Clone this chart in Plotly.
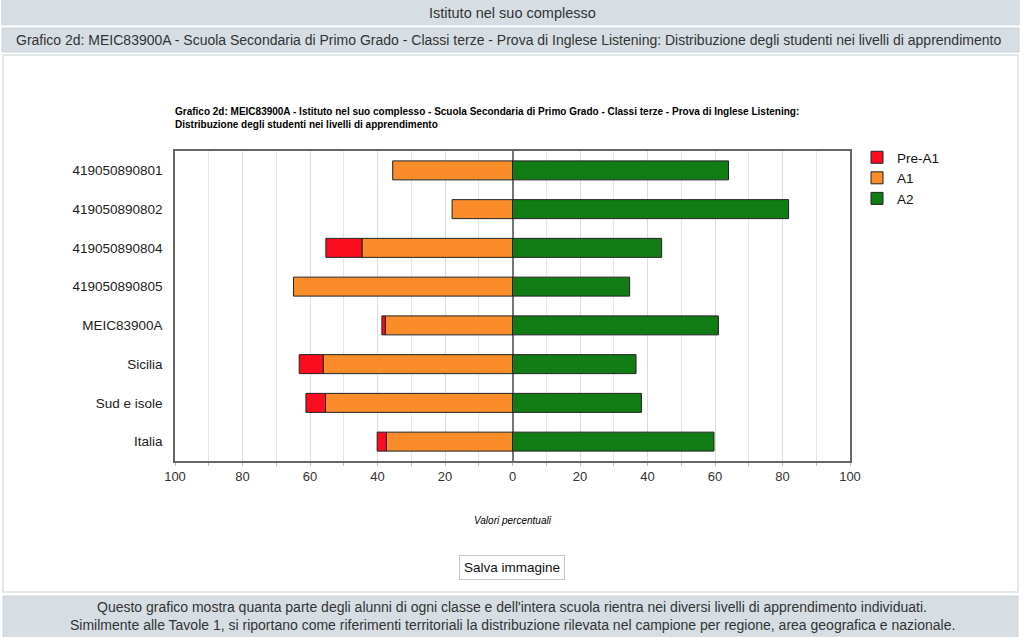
import plotly.graph_objects as go

# ---------------- data ----------------
categories = ["419050890801", "419050890802", "419050890804", "419050890805",
              "MEIC83900A", "Sicilia", "Sud e isole", "Italia"]
pre_a1 = [0.0, 0.0, 10.7, 0.0, 1.0, 7.1, 5.8, 2.7]
a1 = [35.5, 17.9, 44.6, 64.9, 37.7, 56.1, 55.4, 37.4]
a2 = [64.0, 81.8, 44.2, 34.7, 61.0, 36.6, 38.2, 59.7]

tick_vals = [-100, -80, -60, -40, -20, 0, 20, 40, 60, 80, 100]
tick_text = ["100", "80", "60", "40", "20", "0", "20", "40", "60", "80", "100"]

series_names = ["Pre-A1", "A1", "A2"]
series_colors = ["#fb0d1f", "#fb8c2a", "#117c13"]

header_text = "Istituto nel suo complesso"
sub_header_text = ("Grafico 2d: MEIC83900A - Scuola Secondaria di Primo Grado - Classi terze - "
                   "Prova di Inglese Listening: Distribuzione degli studenti nei livelli di apprendimento")
chart_title = ("Grafico 2d: MEIC83900A - Istituto nel suo complesso - Scuola Secondaria di Primo Grado - "
               "Classi terze - Prova di Inglese Listening:<br>Distribuzione degli studenti nei livelli di apprendimento")
x_title = "Valori percentuali"
button_text = "Salva immagine"
footer_lines = ["Questo grafico mostra quanta parte degli alunni di ogni classe e dell'intera scuola rientra "
                "nei diversi livelli di apprendimento individuati.",
                "Similmente alle Tavole 1, si riportano come riferimenti territoriali la distribuzione "
                "rilevata nel campione per regione, area geografica e nazionale."]

W, H = 1024, 637


def px(x):
    return x / W


def py(y):
    return 1 - y / H


fig = go.Figure()
line_style = dict(color="#222222", width=1)

fig.add_trace(go.Bar(y=categories, x=[-v for v in a1], orientation="h", name=series_names[1],
                     marker=dict(color=series_colors[1], line=line_style), legendrank=2))
fig.add_trace(go.Bar(y=categories, x=[-v for v in pre_a1], orientation="h", name=series_names[0],
                     marker=dict(color=series_colors[0], line=line_style), legendrank=1))
fig.add_trace(go.Bar(y=categories, x=a2, orientation="h", name=series_names[2],
                     marker=dict(color=series_colors[2], line=line_style), legendrank=3))

header_bg = "#d6dee3"
shapes = [
    dict(type="rect", xref="paper", yref="paper", x0=px(1), x1=px(1020), y0=py(0), y1=py(25.5),
         fillcolor=header_bg, line=dict(width=0), layer="below"),
    dict(type="rect", xref="paper", yref="paper", x0=px(2), x1=px(1019), y0=py(28), y1=py(52),
         fillcolor=header_bg, line=dict(color="#c9d2d8", width=1), layer="below"),
    dict(type="rect", xref="paper", yref="paper", x0=px(3), x1=px(1018), y0=py(55), y1=py(592),
         fillcolor="white", line=dict(color="#e1e6e9", width=2), layer="below"),
    dict(type="rect", xref="paper", yref="paper", x0=px(3), x1=px(1018), y0=py(596), y1=py(640),
         fillcolor=header_bg, line=dict(color="#c9d2d8", width=1), layer="below"),
]

sans = "Liberation Sans, Arial, sans-serif"
annotations = [
    dict(text=header_text, x=px(512), y=py(13), xref="paper", yref="paper", showarrow=False,
         xanchor="center", yanchor="middle", font=dict(family=sans, size=14.5, color="#333333")),
    dict(text=sub_header_text, x=px(508), y=py(40), xref="paper", yref="paper", showarrow=False,
         xanchor="center", yanchor="middle", font=dict(family=sans, size=14, color="#333333")),
    dict(text="<b>" + chart_title.replace("<br>", "</b><br><b>") + "</b>", x=px(173), y=py(104),
         xref="paper", yref="paper", showarrow=False, xanchor="left", yanchor="top", align="left",
         font=dict(family=sans, size=10, color="#000000")),
    dict(text="<i>" + x_title + "</i>", x=px(513), y=py(520), xref="paper", yref="paper",
         showarrow=False, xanchor="center", yanchor="middle",
         font=dict(family=sans, size=10, color="#000000")),
    dict(text=button_text, x=px(512), y=py(567), xref="paper", yref="paper", showarrow=False,
         xanchor="center", yanchor="middle", bgcolor="white", bordercolor="#c8c8c8", borderwidth=1,
         borderpad=4, font=dict(family=sans, size=13.5, color="#111111")),
    dict(text=footer_lines[0], x=px(512), y=py(607), xref="paper", yref="paper", showarrow=False,
         xanchor="center", yanchor="middle",
         font=dict(family=sans, size=14, color="#333333")),
    dict(text=footer_lines[1], x=px(512), y=py(625), xref="paper", yref="paper", showarrow=False,
         xanchor="center", yanchor="middle",
         font=dict(family=sans, size=14, color="#333333")),
]

fig.update_layout(
    width=W, height=H,
    margin=dict(l=0, r=0, t=0, b=0),
    paper_bgcolor="white", plot_bgcolor="white",
    barmode="relative", bargap=0.51,
    font=dict(family=sans, size=13, color="#222222"),
    showlegend=True,
    legend=dict(x=px(857), y=py(142), xanchor="left", yanchor="top",
                font=dict(size=13.5, color="#111111"), bgcolor="rgba(0,0,0,0)", itemwidth=30),
    shapes=shapes, annotations=annotations,
    xaxis=dict(domain=[px(175), px(850)], range=[-100, 100], tickvals=tick_vals, ticktext=tick_text,
               showgrid=True, gridcolor="#dddddd", gridwidth=1,
               minor=dict(dtick=10, tick0=0, showgrid=True, gridcolor="#e6e6e6", ticks="outside",
                          ticklen=3, tickcolor="#bbbbbb"),
               ticks="outside", ticklen=3, tickcolor="#bbbbbb",
               zeroline=True, zerolinecolor="#777777", zerolinewidth=1.5,
               showline=True, linecolor="#666666", linewidth=1.5, mirror=True,
               tickfont=dict(size=13, color="#333333"), automargin=False, fixedrange=True),
    yaxis=dict(domain=[py(461), py(151)], categoryorder="array", categoryarray=categories,
               autorange="reversed", showgrid=False, ticks="", ticklabelstandoff=8,
               showline=True, linecolor="#666666", linewidth=1.5, mirror=True,
               tickfont=dict(size=13.5, color="#222222"), automargin=False, fixedrange=True),
)

fig.write_html("out.html", config=dict(displayModeBar=False),
               post_script="document.body.style.margin='0';document.body.style.overflow='hidden';")
